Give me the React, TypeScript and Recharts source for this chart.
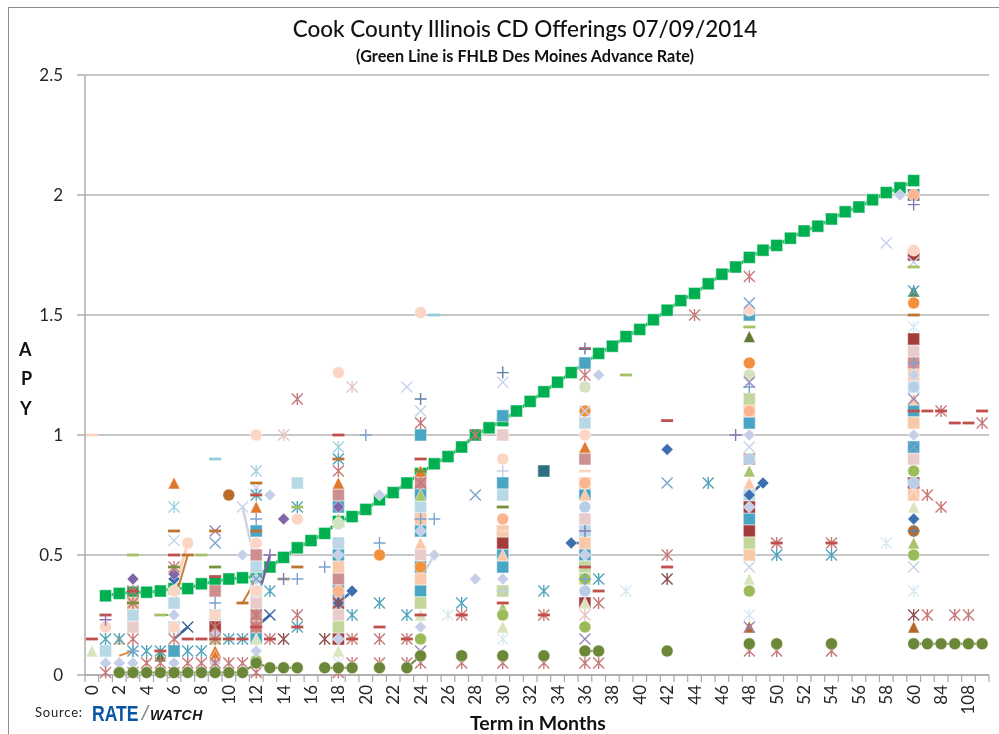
import { ScatterChart, Scatter, XAxis, YAxis, CartesianGrid } from "recharts";

type Pt = [number, number];
type Kind = "square" | "circle" | "triangle" | "diamond" | "x" | "star" | "dash" | "plus";

// x values are positions in the term category list below, y values are APY
const termLabels = [
  0, 1, 2, 3, 4, 5, 6, 7, 8, 9, 10, 11, 12, 13, 14, 15, 16, 17, 18, 19, 20, 21, 22, 23, 24, 25, 26, 27, 28, 29, 30,
  31, 32, 33, 34, 35, 36, 37, 38, 39, 40, 41, 42, 43, 44, 45, 46, 47, 48, 49, 50, 51, 52, 53, 54, 55, 56, 57, 58, 59,
  60, 72, 84, 96, 108, 120,
];
const apyTicks = [0, 0.5, 1, 1.5, 2, 2.5];

const advanceRate: Pt[] = [
  [1, 0.33], [2, 0.34], [3, 0.345], [4, 0.345], [5, 0.35], [6, 0.36], [7, 0.36], [8, 0.38], [9, 0.39], [10, 0.4],
  [11, 0.405], [12, 0.41], [13, 0.45], [14, 0.49], [15, 0.53], [16, 0.56], [17, 0.59], [18, 0.64], [19, 0.66],
  [20, 0.69], [21, 0.73], [22, 0.76], [23, 0.8], [24, 0.84], [25, 0.88], [26, 0.91], [27, 0.95], [28, 1.0], [29, 1.03],
  [30, 1.06], [31, 1.1], [32, 1.14], [33, 1.18], [34, 1.22], [35, 1.26], [36, 1.3], [37, 1.34], [38, 1.37], [39, 1.41],
  [40, 1.44], [41, 1.48], [42, 1.52], [43, 1.56], [44, 1.59], [45, 1.63], [46, 1.67], [47, 1.7], [48, 1.74], [49, 1.77],
  [50, 1.79], [51, 1.82], [52, 1.85], [53, 1.87], [54, 1.9], [55, 1.93], [56, 1.95], [57, 1.98], [58, 2.01], [59, 2.03],
  [60, 2.06],
];

const rosySquares: Pt[] = [
  [9, 0.35], [12, 0.5], [12, 0.25], [12, 0.2], [18, 0.75], [18, 0.4], [18, 0.3], [24, 0.8], [24, 0.65], [36, 0.9],
  [48, 0.9], [60, 1.3],
];
const paleRoseSquares: Pt[] = [[3, 0.2], [6, 0.3], [12, 0.3], [18, 0.25], [24, 0.5], [30, 1], [36, 0.65], [60, 1.35], [60, 0.9]];
const tealSquares: Pt[] = [
  [6, 0.1], [12, 0.6], [12, 0.15], [18, 0.7], [18, 0.5], [18, 0.35], [24, 1], [24, 0.75], [24, 0.6], [24, 0.45],
  [24, 0.35], [30, 1.08], [30, 0.8], [30, 0.6], [30, 0.5], [30, 0.45], [36, 1.3], [36, 0.75], [36, 0.5], [36, 0.45],
  [48, 1.5], [48, 1.05], [48, 0.65], [60, 1.1], [60, 0.95],
];
const deepTealSquares: Pt[] = [[33, 0.85], [60, 2.0]];
const iceSquares: Pt[] = [
  [1, 0.1], [3, 0.25], [6, 0.3], [6, 0.2], [9, 0.25], [12, 0.45], [12, 0.35], [15, 0.8], [18, 0.55], [24, 0.7], [30, 0.75],
  [30, 0.35], [36, 1.05], [36, 0.6], [48, 0.75], [60, 1.2], [60, 1.05],
];
const brickSquares: Pt[] = [[9, 0.2], [18, 0.15], [30, 0.55], [36, 0.3], [48, 0.7], [48, 0.6], [60, 1.75], [60, 1.4], [60, 0.8]];
const peachSquares: Pt[] = [
  [3, 0.3], [18, 0.45], [24, 0.65], [24, 0.4], [24, 0.3], [30, 0.6], [36, 0.8], [36, 0.55], [48, 1.1], [48, 0.5], [60, 1.25],
  [60, 1.05], [60, 0.75],
];
const sageSquares: Pt[] = [[9, 0.15], [18, 0.2], [24, 0.3], [30, 0.35], [36, 0.45], [36, 0.4], [48, 1.15], [48, 0.55]];

const orangeTriangles: Pt[] = [[6, 0.8], [9, 0.1], [9, 0.08], [12, 0.7], [18, 0.8], [24, 0.85], [30, 0.2], [36, 0.95]];
const leafTriangles: Pt[] = [[18, 0.65], [24, 0.75], [30, 0.28], [48, 0.85], [60, 0.55]];
const paleTriangles: Pt[] = [[0, 0.1], [12, 0.15], [18, 0.1], [24, 0.25], [30, 0.2], [36, 0.3], [48, 0.4], [60, 0.7]];
const pineTriangles: Pt[] = [[5, 0.08], [48, 1.41], [60, 1.6]];
const rustTriangles: Pt[] = [[48, 0.2], [60, 0.2]];
const peachTriangles: Pt[] = [[2, 0.15], [24, 0.55], [30, 0.5], [36, 0.75], [48, 0.8], [60, 1.15], [60, 0.75]];

const blushCircles: Pt[] = [
  [1, 0.2], [6, 0.35], [6, 0.2], [7, 0.55], [9, 0.25], [12, 1], [12, 0.55], [12, 0.35], [15, 0.65], [18, 1.26],
  [24, 1.51], [30, 0.9], [36, 1], [48, 1.52], [60, 1.77],
];
const salmonCircles: Pt[] = [[18, 0.35], [30, 0.65], [36, 0.8], [48, 1.1], [60, 2.0]];
const orangeCircles: Pt[] = [[21, 0.5], [24, 0.45], [36, 1.1], [48, 1.3], [60, 1.55]];
const rustCircles: Pt[] = [[10, 0.75], [60, 0.6]];
const leafCircles: Pt[] = [[12, 0.06], [24, 0.15], [30, 0.25], [36, 0.4], [36, 0.2], [48, 0.35], [60, 0.85], [60, 0.5]];
const paleCircles: Pt[] = [[18, 0.63], [36, 1.2], [48, 1.25]];
const skyCircles: Pt[] = [[36, 0.7], [36, 0.35], [48, 0.9], [60, 1.2], [60, 0.8]];
const mossCircles: Pt[] = [
  [2, 0.01], [3, 0.01], [4, 0.01], [5, 0.01], [6, 0.01], [7, 0.01], [8, 0.01], [9, 0.01], [10, 0.01], [11, 0.01],
  [12, 0.05], [13, 0.03], [14, 0.03], [15, 0.03], [17, 0.03], [18, 0.03], [19, 0.03], [21, 0.03], [23, 0.03], [24, 0.08],
  [27, 0.08], [30, 0.08], [33, 0.08], [36, 0.1], [37, 0.1], [42, 0.1], [48, 0.13], [50, 0.13], [54, 0.13], [60, 0.13],
  [61, 0.13], [62, 0.13], [63, 0.13], [64, 0.13], [65, 0.13],
];

const cobaltDiamonds: Pt[] = [[6, 0.4], [18, 0.3], [19, 0.35], [35, 0.55], [42, 0.94], [48, 0.75], [49, 0.8], [60, 0.65]];
const mistDiamonds: Pt[] = [
  [1, 0.05], [2, 0.05], [3, 0.05], [6, 0.25], [6, 0.05], [9, 0.17], [9, 0.05], [11, 0.5], [12, 0.4], [12, 0.1], [13, 0.75],
  [18, 0.5], [18, 0.15], [21, 0.75], [24, 0.6], [24, 0.2], [25, 0.5], [28, 0.4], [30, 0.4], [36, 0.5], [37, 1.25],
  [48, 1], [48, 0.7], [59, 2], [60, 1.25], [60, 1],
];
const violetDiamonds: Pt[] = [[3, 0.4], [6, 0.42], [14, 0.65], [18, 0.7]];

const mistCrosses: Pt[] = [
  [6, 0.56], [11, 0.7], [12, 0.78], [23, 1.2], [24, 1.1], [30, 1.22], [36, 1.1], [48, 0.95], [48, 0.45], [58, 1.8],
  [60, 1.72], [60, 0.45],
];
const blueCrosses: Pt[] = [[9, 0.55], [12, 0.4], [28, 0.75], [42, 0.8], [48, 1.55], [60, 0.95]];
const violetCrosses: Pt[] = [[9, 0.6], [24, 0.1], [36, 0.15], [48, 1.22], [48, 0.2], [60, 1.15]];
const navyCrosses: Pt[] = [[7, 0.2], [13, 0.25]];

const redStars: Pt[] = [
  [1, 0.01], [3, 0.35], [3, 0.3], [3, 0.15], [3, 0.01], [4, 0.05], [5, 0.05], [6, 0.45], [6, 0.15], [6, 0.01], [7, 0.05],
  [8, 0.05], [9, 0.2], [9, 0.15], [9, 0.05], [10, 0.05], [11, 0.05], [12, 0.25], [12, 0.2], [12, 0.01], [13, 0.15], [15, 1.15],
  [15, 0.25], [18, 0.85], [18, 0.01], [19, 0.15], [19, 0.05], [21, 0.15], [21, 0.05], [23, 0.15], [23, 0.05], [24, 1.05],
  [24, 0.8], [24, 0.05], [27, 0.25], [27, 0.05], [28, 1], [30, 0.05], [33, 0.25], [33, 0.05], [36, 1.25], [36, 0.05],
  [37, 0.3], [37, 0.05], [42, 0.5], [44, 1.5], [48, 1.66], [48, 0.1], [50, 0.55], [50, 0.1], [54, 0.55], [54, 0.1],
  [61, 0.75], [61, 0.25], [62, 1.1], [62, 0.7], [63, 0.25], [64, 0.25], [65, 1.05],
];
const maroonStars: Pt[] = [[14, 0.15], [17, 0.15], [18, 0.3], [42, 0.4], [60, 0.25]];
const blushStars: Pt[] = [[14, 1], [19, 1.2], [36, 0.25]];
const tealStars: Pt[] = [
  [1, 0.15], [2, 0.15], [3, 0.1], [4, 0.1], [5, 0.1], [6, 0.1], [7, 0.1], [8, 0.1], [10, 0.15], [11, 0.15], [12, 0.75],
  [13, 0.35], [15, 0.7], [15, 0.2], [18, 0.9], [19, 0.25], [21, 0.3], [23, 0.25], [27, 0.3], [33, 0.35], [37, 0.4],
  [45, 0.8], [50, 0.5], [54, 0.5], [60, 1.6],
];
const aquaStars: Pt[] = [[6, 0.7], [12, 0.85], [18, 0.95]];
const frostStars: Pt[] = [[18, 0.05], [26, 0.25], [30, 0.15], [39, 0.35], [48, 0.25], [58, 0.55], [60, 1.45], [60, 0.35]];

const redDashes: Pt[] = [
  [0, 0.15], [1, 0.25], [3, 0.35], [5, 0.1], [6, 0.5], [7, 0.15], [8, 0.15], [9, 0.41], [9, 0.15], [10, 0.15], [11, 0.15],
  [12, 0.75], [12, 0.2], [13, 0.15], [15, 0.2], [18, 1], [19, 0.15], [21, 0.2], [23, 0.15], [24, 0.9], [24, 0.25],
  [27, 0.25], [30, 0.3], [33, 0.25], [36, 1.36], [36, 0.45], [37, 0.35], [42, 1.06], [42, 0.45], [50, 0.55], [54, 0.55],
  [60, 1.1], [61, 1.1], [62, 1.1], [63, 1.05], [64, 1.05], [65, 1.1],
];
const copperDashes: Pt[] = [[6, 0.6], [7, 0.5], [9, 0.6], [11, 0.3], [12, 0.8], [12, 0.6], [15, 0.45], [18, 0.9], [60, 1.5]];
const limeDashes: Pt[] = [[3, 0.5], [5, 0.25], [8, 0.5], [14, 0.4], [15, 0.7], [39, 1.25], [48, 1.45], [60, 1.7]];
const oliveDashes: Pt[] = [[3, 0.3], [6, 0.45], [9, 0.45], [24, 0.85], [30, 0.7]];
const iceDashes: Pt[] = [[9, 0.9], [25, 1.5]];
const blushDashes: Pt[] = [[0, 1], [30, 0.6], [36, 0.85]];

const bluePluses: Pt[] = [
  [3, 0.1], [9, 0.3], [12, 0.65], [15, 0.4], [17, 0.45], [20, 1], [21, 0.55], [24, 0.65], [25, 0.65], [36, 0.4], [48, 1.2],
  [60, 1.3],
];
const slatePluses: Pt[] = [[24, 1.15], [30, 1.26], [36, 1.36], [60, 0.6]];
const mistPluses: Pt[] = [[18, 0.55], [30, 0.85], [30, 0.35]];
const violetPluses: Pt[] = [[1, 0.23], [13, 0.5], [14, 0.4], [36, 0.6], [47, 1], [60, 1.96]];

// short joined pairs, these banks only quote two neighbouring terms
const joins: { color: string; width: number; points: Pt[] }[] = [
  { color: "#e98f45", width: 2, points: [[2, 0.08], [3, 0.1]] },
  { color: "#8aa83f", width: 2, points: [[5, 0.25], [6, 0.25]] },
  { color: "#fbd3bd", width: 3, points: [[6, 0.35], [7, 0.55]] },
  { color: "#c77c33", width: 2, points: [[6, 0.3], [7, 0.5]] },
  { color: "#35649f", width: 2.5, points: [[6, 0.15], [7, 0.2]] },
  { color: "#cdd4e8", width: 2.5, points: [[11, 0.7], [12, 0.45]] },
  { color: "#c77c33", width: 2, points: [[11, 0.3], [12, 0.4]] },
  { color: "#7a5ea8", width: 2.5, points: [[12, 0.3], [13, 0.5]] },
  { color: "#35649f", width: 2.5, points: [[12, 0.2], [13, 0.25]] },
  { color: "#3d6eb0", width: 2.5, points: [[18, 0.3], [19, 0.35]] },
  { color: "#cdd4e8", width: 2.5, points: [[24, 0.4], [25, 0.5]] },
  { color: "#3d6eb0", width: 2.5, points: [[35, 0.55], [36, 0.55]] },
  { color: "#3d6eb0", width: 2.5, points: [[48, 0.75], [49, 0.8]] },
];

// order follows the drawing order, later groups sit on top
const markerGroups: { kind: Kind; color: string; points: Pt[] }[] = [
  { kind: "square", color: "#cd8f8f", points: rosySquares },
  { kind: "square", color: "#e8cccc", points: paleRoseSquares },
  { kind: "square", color: "#4aa5c5", points: tealSquares },
  { kind: "square", color: "#2e6f85", points: deepTealSquares },
  { kind: "square", color: "#b9d8e6", points: iceSquares },
  { kind: "square", color: "#a53c3c", points: brickSquares },
  { kind: "square", color: "#f8c9a8", points: peachSquares },
  { kind: "square", color: "#c3d69b", points: sageSquares },
  { kind: "triangle", color: "#e0782f", points: orangeTriangles },
  { kind: "triangle", color: "#a8c46c", points: leafTriangles },
  { kind: "triangle", color: "#d8e4bd", points: paleTriangles },
  { kind: "triangle", color: "#5f7a35", points: pineTriangles },
  { kind: "triangle", color: "#b5662b", points: rustTriangles },
  { kind: "triangle", color: "#fac8a6", points: peachTriangles },
  { kind: "circle", color: "#fcd5c4", points: blushCircles },
  { kind: "circle", color: "#fbb48e", points: salmonCircles },
  { kind: "circle", color: "#f2913d", points: orangeCircles },
  { kind: "circle", color: "#b96c28", points: rustCircles },
  { kind: "circle", color: "#9bbb59", points: leafCircles },
  { kind: "circle", color: "#d4e2bf", points: paleCircles },
  { kind: "circle", color: "#b8cde8", points: skyCircles },
  { kind: "diamond", color: "#3d6eb0", points: cobaltDiamonds },
  { kind: "diamond", color: "#c5d0e8", points: mistDiamonds },
  { kind: "diamond", color: "#8066a8", points: violetDiamonds },
  { kind: "x", color: "#c6d2ea", points: mistCrosses },
  { kind: "x", color: "#7ca3cf", points: blueCrosses },
  { kind: "x", color: "#9a86bc", points: violetCrosses },
  { kind: "x", color: "#35649f", points: navyCrosses },
  { kind: "star", color: "#c87878", points: redStars },
  { kind: "star", color: "#8f4f4f", points: maroonStars },
  { kind: "star", color: "#e8c4c4", points: blushStars },
  { kind: "star", color: "#52a5bc", points: tealStars },
  { kind: "star", color: "#a5d3e0", points: aquaStars },
  { kind: "star", color: "#d8e9f2", points: frostStars },
  { kind: "dash", color: "#c0504d", points: redDashes },
  { kind: "dash", color: "#bf7530", points: copperDashes },
  { kind: "dash", color: "#a4c263", points: limeDashes },
  { kind: "dash", color: "#76923c", points: oliveDashes },
  { kind: "dash", color: "#92cddc", points: iceDashes },
  { kind: "dash", color: "#fbd5c0", points: blushDashes },
  { kind: "plus", color: "#7ca3cf", points: bluePluses },
  { kind: "plus", color: "#5f7ea8", points: slatePluses },
  { kind: "plus", color: "#c5d0e8", points: mistPluses },
  { kind: "plus", color: "#8a76b4", points: violetPluses },
];

const toRows = (points: Pt[]) => points.map(([x, y]) => ({ x, y }));

// neighbouring terms are joined, a gap in the terms breaks the line like in Excel
const splitRuns = (points: Pt[]) => {
  const runs: Pt[][] = [];
  points.forEach((p, i) => {
    if (i > 0 && p[0] - points[i - 1][0] === 1) runs[runs.length - 1].push(p);
    else runs.push([p]);
  });
  return runs.filter((r) => r.length > 1);
};

function Marker({ kind, color, cx, cy, r = 6 }: { kind: Kind; color: string; cx: number; cy: number; r?: number }) {
  const edge = "rgba(255,255,255,0.5)";
  if (kind === "square") return <rect x={cx - r} y={cy - r} width={r * 2} height={r * 2} fill={color} stroke={edge} />;
  if (kind === "circle") return <circle cx={cx} cy={cy} r={r} fill={color} stroke={edge} />;
  if (kind === "triangle")
    return <polygon points={`${cx},${cy - r} ${cx + r},${cy + r} ${cx - r},${cy + r}`} fill={color} stroke={edge} />;
  if (kind === "diamond")
    return <polygon points={`${cx},${cy - r} ${cx + r},${cy} ${cx},${cy + r} ${cx - r},${cy}`} fill={color} stroke={edge} />;
  if (kind === "dash") return <rect x={cx - r} y={cy - 1.4} width={r * 2} height={2.8} fill={color} />;
  const d = r - 0.5;
  const cross = `M${cx - d},${cy - d}L${cx + d},${cy + d}M${cx + d},${cy - d}L${cx - d},${cy + d}`;
  const upright = `M${cx},${cy - r}L${cx},${cy + r}`;
  const flat = `M${cx - r},${cy}L${cx + r},${cy}`;
  const path = kind === "x" ? cross : kind === "star" ? cross + upright : upright + flat;
  return <path d={path} stroke={color} strokeWidth={1.4} fill="none" />;
}

const markerShape = (kind: Kind, color: string, r?: number) => (p: any) => (
  <Marker kind={kind} color={color} cx={p.cx} cy={p.cy} r={r} />
);

function TermTick({ x, payload }: any) {
  const index = payload.value + 0.5;
  const label = termLabels[index];
  const mid = x + 6.85;
  return (
    <g>
      <line x1={x} x2={x} y1={675} y2={682} stroke="#a8a8a8" strokeWidth={1.2} />
      {index % 2 === 0 && label !== undefined && (
        <text
          transform={`translate(${mid + 6},685) rotate(-90)`}
          textAnchor="end"
          fontFamily="Lato"
          fontSize={17}
          fill="#262626"
        >
          {label}
        </text>
      )}
    </g>
  );
}

const boundaryTicks = [...termLabels.map((_, i) => i - 0.5), 65.5];

const textAt = (left: number, top: number): React.CSSProperties => ({
  position: "absolute",
  left,
  top,
  whiteSpace: "nowrap",
  lineHeight: 1,
  color: "#111",
  fontFamily: "Lato",
});

export default function App() {
  return (
    <div
      style={{
        position: "absolute",
        left: 0,
        top: 0,
        width: 999,
        height: 734,
        background: "#fff",
        overflow: "hidden",
        filter: "blur(0.6px)",
      }}
    >
      <div style={{ position: "absolute", left: 8, top: 7, width: 991, height: 727, borderLeft: "1px solid #8c8c8c", borderTop: "1px solid #8c8c8c" }} />
      <div style={{ position: "absolute", left: 0, top: 0 }}>
        <ScatterChart width={999} height={734} margin={{ top: 75, right: 10, bottom: 0, left: 0 }}>
          <CartesianGrid vertical={false} stroke="#b4b4b4" strokeWidth={1.4} />
          <XAxis
            type="number"
            dataKey="x"
            domain={[-0.5, 65.5]}
            ticks={boundaryTicks}
            interval={0}
            height={59}
            tick={<TermTick />}
            tickLine={false}
            axisLine={{ stroke: "#a8a8a8", strokeWidth: 1.4 }}
          />
          <YAxis
            type="number"
            dataKey="y"
            domain={[0, 2.5]}
            ticks={apyTicks}
            width={85}
            tickSize={8}
            tickMargin={14}
            tickLine={{ stroke: "#a8a8a8", strokeWidth: 1.4 }}
            axisLine={{ stroke: "#a8a8a8", strokeWidth: 1.4 }}
            tick={{ fill: "#262626", fontSize: 17, fontFamily: "Lato" }}
          />
          <Scatter
            data={toRows(advanceRate)}
            line={{ stroke: "#00b050", strokeWidth: 3 }}
            shape={markerShape("square", "#00b050", 6)}
            isAnimationActive={false}
          />
          {joins.map((j, i) => (
            <Scatter
              key={`join-${i}`}
              data={toRows(j.points)}
              line={{ stroke: j.color, strokeWidth: j.width }}
              shape={() => <g />}
              isAnimationActive={false}
            />
          ))}
          {markerGroups.map((g, i) => (
            <Scatter
              key={`group-${i}`}
              data={toRows(g.points)}
              shape={markerShape(g.kind, g.color)}
              isAnimationActive={false}
            />
          ))}
          {splitRuns(mossCircles).map((run, i) => (
            <Scatter
              key={`run-${i}`}
              data={toRows(run)}
              line={{ stroke: "#6b8838", strokeWidth: 2 }}
              shape={() => <g />}
              isAnimationActive={false}
            />
          ))}
          <Scatter data={toRows(mossCircles)} shape={markerShape("circle", "#6b8838")} isAnimationActive={false} />
        </ScatterChart>
      </div>

      <div style={{ ...textAt(0, 18), width: 1050, textAlign: "center", fontSize: 22.5, fontWeight: 500 }}>
        Cook County Illinois CD Offerings 07/09/2014
      </div>
      <div style={{ ...textAt(0, 48), width: 1050, textAlign: "center", fontSize: 16.2, fontWeight: 700 }}>
        (Green Line is FHLB Des Moines Advance Rate)
      </div>
      <div style={{ ...textAt(19, 340), fontSize: 18, fontWeight: 700 }}>A</div>
      <div style={{ ...textAt(21, 369), fontSize: 18, fontWeight: 700 }}>P</div>
      <div style={{ ...textAt(20, 399), fontSize: 18, fontWeight: 700 }}>Y</div>
      <div style={{ ...textAt(470, 713), fontSize: 19.5, fontWeight: 700 }}>Term in Months</div>
      <div style={{ ...textAt(35, 706), fontSize: 13, letterSpacing: 0.8, color: "#222" }}>Source:</div>
      <div
        style={{
          ...textAt(92, 703),
          fontFamily: "Liberation Sans",
          fontSize: 22,
          fontWeight: 700,
          color: "#0b55a6",
          transform: "scaleX(0.8)",
          transformOrigin: "left",
        }}
      >
        RATE
      </div>
      <div style={{ ...textAt(142, 702), fontFamily: "Liberation Sans", fontSize: 21, fontStyle: "italic", color: "#8a8a8a" }}>/</div>
      <div style={{ ...textAt(150, 708), fontFamily: "Liberation Sans", fontSize: 14, fontWeight: 700, fontStyle: "italic", letterSpacing: 0.5, color: "#151515" }}>WATCH</div>
    </div>
  );
}
